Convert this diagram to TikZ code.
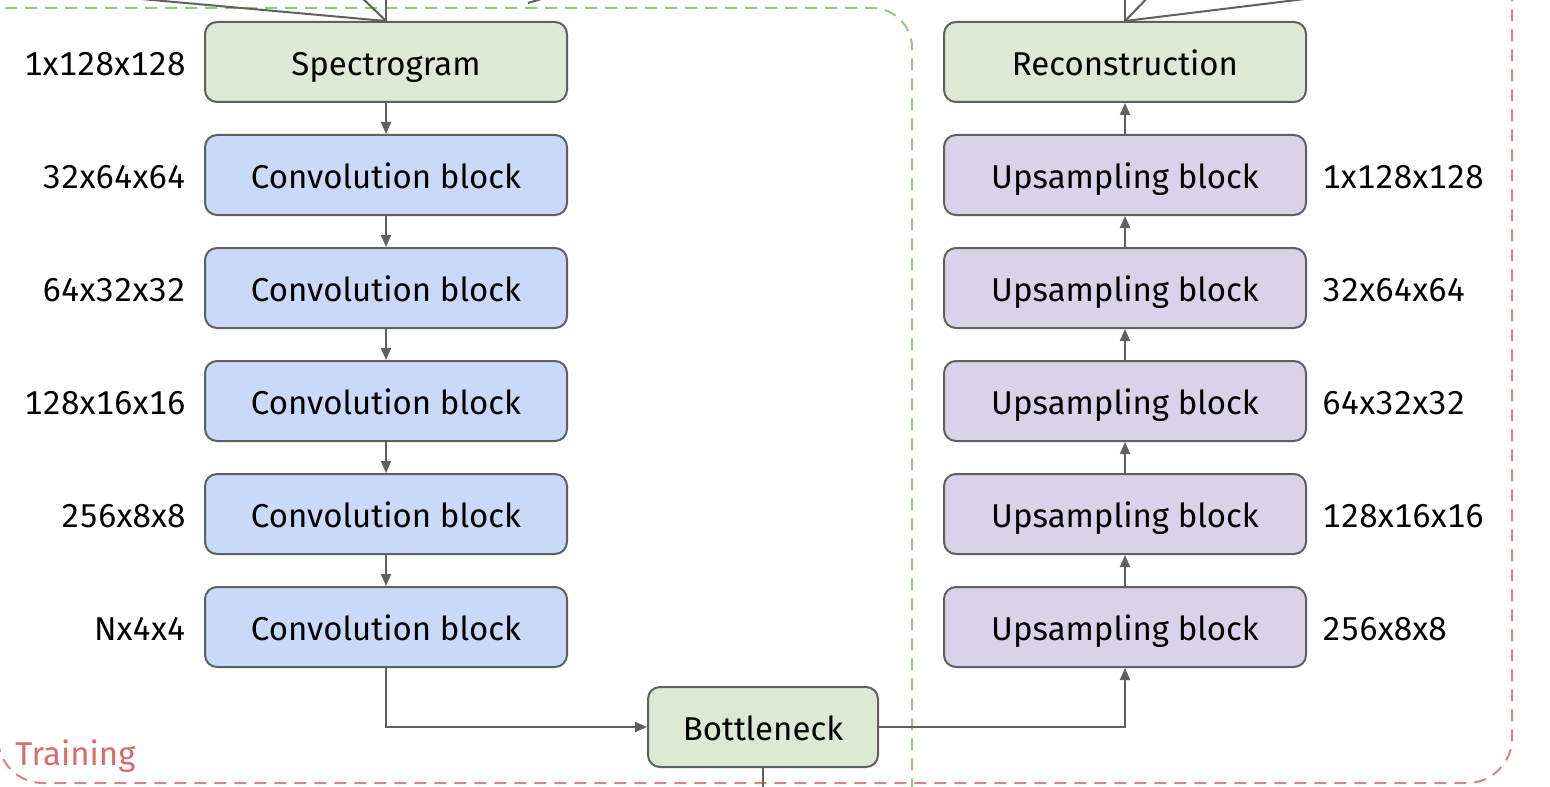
\documentclass[tikz,border=0pt]{standalone}
\usepackage{fontspec}
\setmainfont{Fira Sans}
\newfontfamily\dimfont[Numbers=Monospaced]{Fira Sans}
\usetikzlibrary{arrows.meta}
\definecolor{lineg}{HTML}{606060}
\definecolor{fgreen}{HTML}{DCE9D5}
\definecolor{fblue}{HTML}{C9DAF8}
\definecolor{fpurple}{HTML}{D9D2E9}
\definecolor{dgreen}{HTML}{97C680}
\definecolor{dred}{HTML}{E08080}
\definecolor{tred}{HTML}{D86C6C}
\tikzset{
  blk/.style={draw=lineg, line width=1pt, rounded corners=6pt, minimum width=181pt, minimum height=40pt, inner sep=0pt, text height=13.5pt, text depth=0pt, font=\fontsize{16.5}{19}\selectfont, text=black},
  gblk/.style={blk, fill=fgreen},
  bblk/.style={blk, fill=fblue},
  pblk/.style={blk, fill=fpurple},
  dimlbl/.style={font=\dimfont\fontsize{16.5}{19}\selectfont, inner sep=0pt, text height=13.5pt, text depth=0pt, text=black},
  conn/.style={draw=lineg, line width=1pt},
  arr/.style={conn, -{Triangle[length=6pt,width=5pt]}},
  gdash/.style={draw=dgreen, line width=1pt, dash pattern=on 6pt off 4pt},
  rdash/.style={draw=dred, line width=1pt, dash pattern=on 6pt off 4pt},
}
\begin{document}
\begin{tikzpicture}[x=0.5pt,y=-0.5pt]
\useasboundingbox (0,0) rectangle (1550,786);
\clip (0,0) rectangle (1550,786);
% dashed regions
\draw[gdash, rounded corners=20pt] (-30,850) -- (-30,8) -- (912,8) -- (912,850);
\draw[rdash, rounded corners=22.5pt] (-2,-100) -- (-2,783) -- (1512,783) -- (1512,-100);
\node[anchor=base west, inner sep=0pt, text=tred, font=\fontsize{16.5}{19}\selectfont] (train) at (15,765) {Training};
% left column
\node[gblk] (spec) at (386,62) {Spectrogram};
\node[bblk] (c1) at (386,175) {Convolution block};
\node[bblk] (c2) at (386,288) {Convolution block};
\node[bblk] (c3) at (386,401) {Convolution block};
\node[bblk] (c4) at (386,514) {Convolution block};
\node[bblk] (c5) at (386,627) {Convolution block};
% right column
\node[gblk] (rec) at (1125,62) {Reconstruction};
\node[pblk] (u1) at (1125,175) {Upsampling block};
\node[pblk] (u2) at (1125,288) {Upsampling block};
\node[pblk] (u3) at (1125,401) {Upsampling block};
\node[pblk] (u4) at (1125,514) {Upsampling block};
\node[pblk] (u5) at (1125,627) {Upsampling block};
% bottleneck
\node[gblk, minimum width=115pt] (bn) at (763,727) {Bottleneck};
% dimension labels
\node[dimlbl, anchor=east] (l0) at (186,62) {1x128x128};
\node[dimlbl, anchor=east] (l1) at (186,175) {32x64x64};
\node[dimlbl, anchor=east] (l2) at (186,288) {64x32x32};
\node[dimlbl, anchor=east] (l3) at (186,401) {128x16x16};
\node[dimlbl, anchor=east] (l4) at (186,514) {256x8x8};
\node[dimlbl, anchor=east] (l5) at (186,627) {Nx4x4};
\node[dimlbl, anchor=west] (r1) at (1322,175) {1x128x128};
\node[dimlbl, anchor=west] (r2) at (1322,288) {32x64x64};
\node[dimlbl, anchor=west] (r3) at (1322,401) {64x32x32};
\node[dimlbl, anchor=west] (r4) at (1322,514) {128x16x16};
\node[dimlbl, anchor=west] (r5) at (1322,627) {256x8x8};
% arrows
\draw[arr] (spec) -- (c1);
\draw[arr] (c1) -- (c2);
\draw[arr] (c2) -- (c3);
\draw[arr] (c3) -- (c4);
\draw[arr] (c4) -- (c5);
\draw[arr] (c5.south) |- (bn.west);
\draw[arr] (bn.east) -| (u5.south);
\draw[arr] (u5) -- (u4);
\draw[arr] (u4) -- (u3);
\draw[arr] (u3) -- (u2);
\draw[arr] (u2) -- (u1);
\draw[arr] (u1) -- (rec);
% off-picture connectors
\coordinate (bnout) at (763,820);
\draw[conn] (bn.south) -- (bnout);
\coordinate (sa) at (386,-30);
\coordinate (sb) at (354,-10);
\coordinate (sc) at (-200,-31.6);
\draw[conn] (spec.north) -- (sa);
\draw[conn] (spec.north) -- (sb);
\draw[conn] (spec.north) -- (sc);
\coordinate (ra) at (1125,-30);
\coordinate (rb) at (1155,-10);
\coordinate (rc) at (1700,-49.4);
\draw[conn] (rec.north) -- (ra);
\draw[conn] (rec.north) -- (rb);
\draw[conn] (rec.north) -- (rc);
\coordinate (fa) at (528,3);
\coordinate (fb) at (548,-3);
\draw[conn] (fa) -- (fb);
\end{tikzpicture}
\end{document}
